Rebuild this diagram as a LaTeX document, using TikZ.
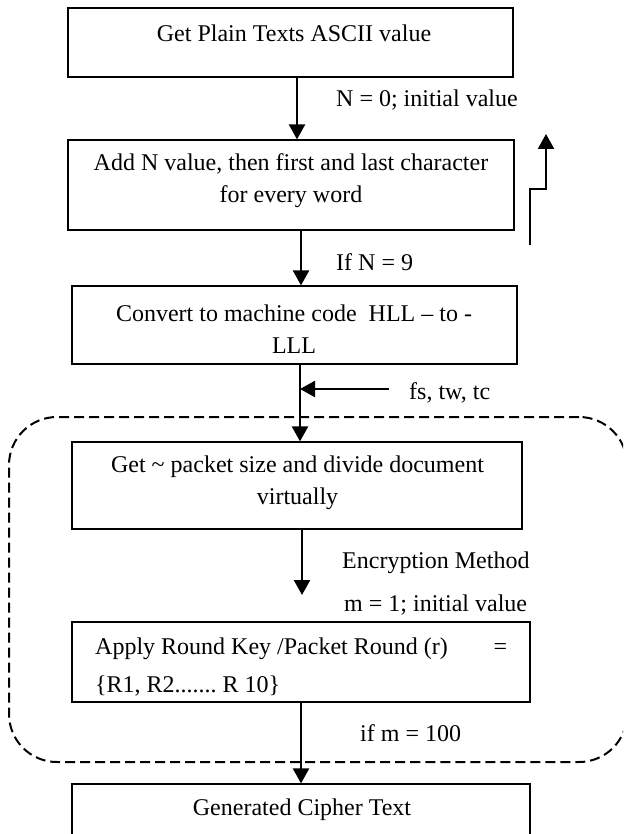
\documentclass[tikz,border=0pt]{standalone}
\usepackage{fontspec}
\setmainfont{Liberation Serif}
\usetikzlibrary{arrows.meta}
\begin{document}
\frenchspacing
\begin{tikzpicture}[x=1pt,y=-1pt,
  box/.style={draw, line width=1.2pt, inner sep=0pt},
  txt/.style={font=\fontsize{24}{32}\selectfont, inner sep=0pt, align=center},
  lbl/.style={font=\fontsize{24}{32}\selectfont, inner sep=0pt, anchor=west},
  arr/.style={line width=2.3pt, -{Triangle[length=15pt,width=16pt]}},
  grp/.style={draw, line width=2pt, dash pattern=on 10pt off 5pt, rounded corners=48pt, inner sep=0pt}]
\useasboundingbox (0,0) rectangle (623,834);
\clip (0,0) rectangle (623,834);

% boxes
\node[box, minimum width=445pt, minimum height=69pt] (b1) at (290.5,42.5) {};
\node[box, minimum width=446pt, minimum height=90pt] (b2) at (291,185) {};
\node[box, minimum width=445pt, minimum height=78pt] (b3) at (294.5,325) {};
\node[box, minimum width=450pt, minimum height=87pt] (b4) at (297,485.5) {};
\node[box, minimum width=458pt, minimum height=80pt] (b5) at (301,662) {};
\node[box, minimum width=458pt, minimum height=66pt] (b6) at (301,817) {};

% dashed group
\node[grp, minimum width=618pt, minimum height=345pt] (grp) at (318,589.5) {};

% box texts
\node[txt] (t1) at (294,33) {Get Plain Texts ASCII value};
\node[txt] (t2) at (291,181) {Add N value, then first and last character\\for every word};
\node[txt] (t3) at (294,329) {Convert to machine code~ HLL -- to -\\LLL};
\node[txt] (t4) at (297.5,482.5) {Get \textasciitilde{} packet size and divide document\\virtually};
\node[txt, font=\fontsize{24}{38}\selectfont, align=left, anchor=west] (t5) at (95,667) {\makebox[412pt][l]{Apply Round Key /Packet Round (r)\hfill=}\\\{R1, R2....... R 10\}};
\node[txt] (t6) at (302,810) {Generated Cipher Text};

% labels
\node[lbl] (l1) at (336,100) {N = 0; initial value};
\node[lbl] (l2) at (336,262) {If N = 9};
\node[lbl] (l3) at (409,393) {fs, tw, tc};
\node[lbl] (l4) at (342,563) {Encryption Method};
\node[lbl] (l5) at (344,605) {m = 1; initial value};
\node[lbl] (l6) at (360,733) {if m = 100};

% connector x positions
\coordinate (x1) at (297,0);
\coordinate (x2) at (301,0);
\coordinate (x3) at (300,0);
\coordinate (x4) at (302,0);
\coordinate (x5) at (301,0);
\coordinate (h1) at (389,389);
\coordinate (e4) at (302,595);
\coordinate (lpa) at (530,245);
\coordinate (lpb) at (546,189);
\coordinate (lpc) at (546,134);

% connectors
\draw[arr] (x1 |- b1.south) -- (x1 |- b2.north);
\draw[arr] (x2 |- b2.south) -- (x2 |- b3.north);
\draw[arr] (x3 |- b3.south) -- (x3 |- b4.north);
\draw[arr] (h1) -- (h1 -| x3);
\draw[arr] (x4 |- b4.south) -- (e4);
\draw[arr] (x5 |- b5.south) -- (x5 |- b6.north);
\draw[arr] (lpa) |- (lpb) -- (lpc);
\end{tikzpicture}
\end{document}
